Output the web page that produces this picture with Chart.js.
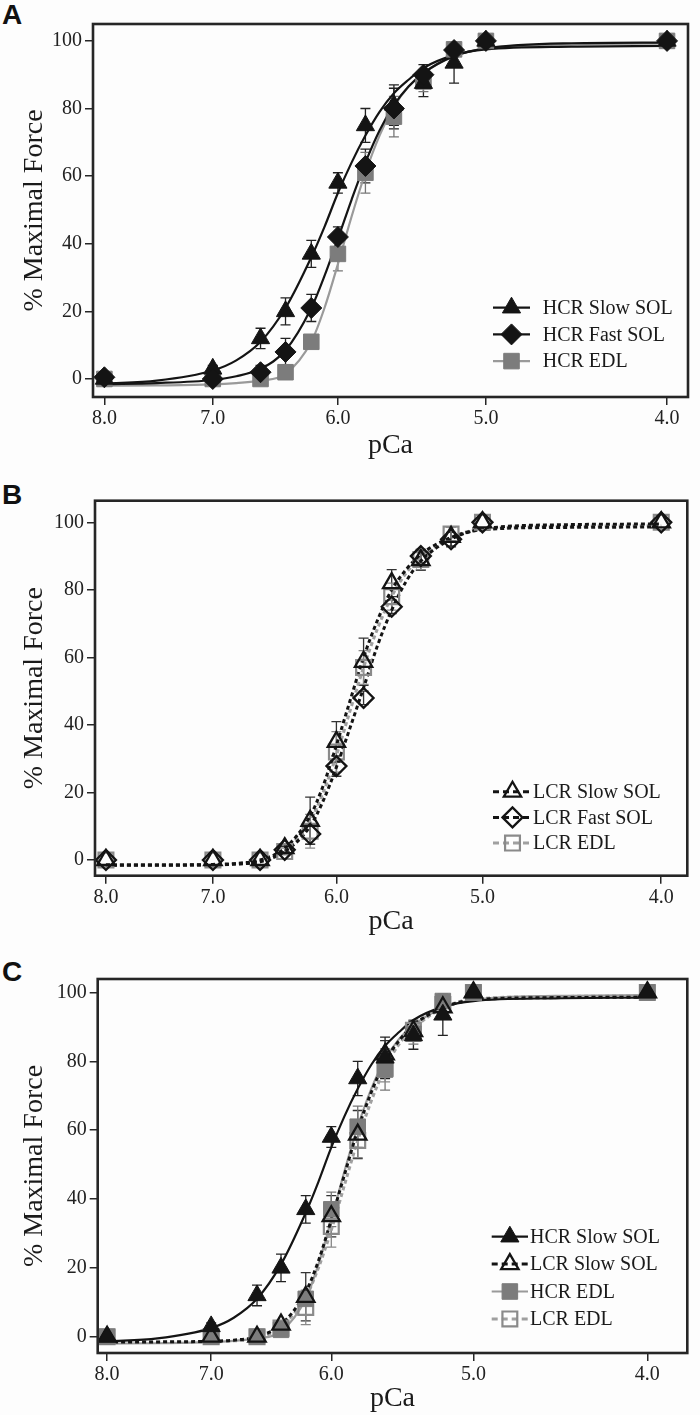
<!DOCTYPE html>
<html>
<head>
<meta charset="utf-8">
<script src="https://cdn.jsdelivr.net/npm/chart.js@4.4.0/dist/chart.umd.min.js"></script>
<style>
  body { margin: 0; background: #fdfdfd; }
  #wrap { position: relative; width: 700px; height: 1415px; }
  .panel { position: absolute; left: 0; }
  .letter { position: absolute; left: 2px; font: bold 28px "Liberation Sans", Arial, sans-serif; line-height: 28px; color: #111; }
</style>
</head>
<body>
<div id="wrap">
  <div class="letter" style="top:1px">A</div>
  <div class="letter" style="top:481px">B</div>
  <div class="letter" style="top:958px">C</div>
  <canvas id="chartA" class="panel" width="700" height="470" style="top:0px"></canvas>
  <canvas id="chartB" class="panel" width="700" height="470" style="top:478px"></canvas>
  <canvas id="chartC" class="panel" width="700" height="460" style="top:955px"></canvas>
</div>
<script>
// measured points
const pCa = [8.0, 7.0, 6.6, 6.4, 6.2, 6.0, 5.8, 5.6, 5.4, 5.2, 5.0, 4.0];

const hcrSlowSol    = [0, 3, 12, 20, 37, 58, 75, 81, 87.5, 93.5, 100, 100];
const hcrSlowSolErr = [0, 1, 3, 4, 4, 3, 5, 6, 4, 6, 0, 0];
const hcrFastSol    = [0.5, 0, 2, 8, 21, 42, 63, 80, 90, 97.3, 100, 100];
const hcrFastSolErr = [0, 0, 2, 4, 4, 3, 5, 6, 3, 2, 0, 0];
const hcrEdl        = [0, 0, 0, 2, 11, 37, 61, 77.6, 88, 97.5, 100, 100];
const hcrEdlErr     = [0, 0, 0, 0, 0, 5, 6, 6, 3, 2, 0, 0];

const lcrSlowSol    = [0, 0, 0, 3.5, 11.6, 35, 58.7, 82, 88.8, 95.7, 100, 100];
const lcrSlowSolErr = [0, 0, 0, 1, 7, 6, 7, 4, 3, 3, 0, 0];
const lcrFastSol    = [0, 0, 0, 3, 7.7, 27.8, 48, 75, 90, 95, 100, 100];
const lcrFastSolErr = [0, 0, 0, 1, 3, 3, 2, 2, 2, 2, 0, 0];
const lcrEdl        = [0, 0, 0, 2.5, 8.5, 32, 57, 78, 89, 96.5, 100, 100];
const lcrEdlErr     = [0, 0, 0, 1, 5, 6, 5, 4, 3, 2, 0, 0];

// fitted curves
const fitPCa = [8.0, 7.5, 7.0, 6.8, 6.6, 6.4, 6.2, 6.1, 6.0, 5.9, 5.8, 5.7, 5.6, 5.5, 5.4, 5.2, 5.0, 4.5, 4.0];
const hcrSlowSolFit = [-1.3, -0.5, 2.5, 5.5, 11, 21, 36, 45, 55, 64, 72, 79, 84.5, 88.5, 92, 95.8, 97.5, 98.3, 98.5];
const hcrFastSolFit = [-1.5, -1.2, -0.3, 0.8, 3, 8.5, 21, 30.5, 41.5, 53, 64, 73.5, 81, 86.5, 90.5, 95.5, 97.8, 99.3, 99.5];
const hcrEdlFit     = [-2, -1.9, -1.6, -1.2, -0.5, 1.5, 11, 21, 34, 48, 61, 72, 80.5, 86.5, 90.5, 95.5, 97.8, 99, 99.2];
const lcrSlowSolFit = [-1.5, -1.5, -1.3, -1, 0, 3.5, 13, 22, 34, 47, 60, 71, 80, 86, 90.5, 95.5, 97.8, 98.5, 98.6];
const lcrFastSolFit = [-1.5, -1.5, -1.4, -1.2, -0.5, 2.5, 10, 17.5, 27.5, 39, 51, 63.5, 74, 82.5, 88.5, 95, 98, 99.3, 99.5];
const lcrEdlFit     = [-1.6, -1.6, -1.5, -1.2, -0.5, 3, 11.5, 20, 31, 44, 57, 68.5, 78, 85, 89.5, 95.5, 98, 98.8, 99];

const xTicks = [8.0, 7.0, 6.0, 5.0, 4.0];
const yTicks = [0, 20, 40, 60, 80, 100];

const BLACK = '#141414';
const GRAY = '#7c7c7c';
const LIGHT = '#9a9a9a';
const SERIF = '"Liberation Serif", "Times New Roman", serif';

const looks = {
  hcrSlow: { pointStyle: 'triangle', radius: 10.5, fill: BLACK, edge: BLACK, edgeWidth: 1, line: BLACK, lineWidth: 2.2, dash: [], err: '#222' },
  hcrFast: { pointStyle: 'rectRot', radius: 10.5, fill: BLACK, edge: BLACK, edgeWidth: 1, line: BLACK, lineWidth: 2.2, dash: [], err: '#222' },
  hcrEdl:  { pointStyle: 'rect', radius: 11, fill: GRAY, edge: GRAY, edgeWidth: 1, line: LIGHT, lineWidth: 2.2, dash: [], err: '#777' },
  lcrSlow: { pointStyle: 'triangle', radius: 10, fill: 'rgba(0,0,0,0)', edge: BLACK, edgeWidth: 2.3, line: BLACK, lineWidth: 3, dash: [4, 3], err: '#333' },
  lcrFast: { pointStyle: 'rectRot', radius: 10, fill: 'rgba(0,0,0,0)', edge: BLACK, edgeWidth: 2.3, line: BLACK, lineWidth: 3, dash: [4, 3], err: '#333' },
  lcrEdl:  { pointStyle: 'rect', radius: 10.5, fill: 'rgba(0,0,0,0)', edge: '#8a8a8a', edgeWidth: 2.2, line: '#a0a0a0', lineWidth: 3, dash: [4, 3], err: '#888' }
};

const panels = [
  { id: 'chartA', area: { left: 93, top: 24, right: 690, bottom: 397 }, height: 470,
    xMin: 3.898, xMax: 8.113, yMin: -5.33, yMax: 105, titlePad: 10,
    legend: { x: 493, len: 37, y: 307.7, gap: 26.7, textX: 542.7 },
    series: [
      { label: 'HCR Fast SOL', data: hcrFastSol, err: hcrFastSolErr, fit: hcrFastSolFit, look: looks.hcrFast, row: 1 },
      { label: 'HCR Slow SOL', data: hcrSlowSol, err: hcrSlowSolErr, fit: hcrSlowSolFit, look: looks.hcrSlow, row: 0 },
      { label: 'HCR EDL', data: hcrEdl, err: hcrEdlErr, fit: hcrEdlFit, look: looks.hcrEdl, row: 2 }
    ] },
  { id: 'chartB', area: { left: 95, top: 22.7, right: 692, bottom: 397.7 }, height: 470,
    xMin: 3.872, xMax: 8.110, yMin: -4.65, yMax: 106.4, titlePad: 12.3,
    legend: { x: 493, len: 39, y: 313.7, gap: 25.7, textX: 533 },
    series: [
      { label: 'LCR Slow SOL', data: lcrSlowSol, err: lcrSlowSolErr, fit: lcrSlowSolFit, look: looks.lcrSlow, row: 0 },
      { label: 'LCR Fast SOL', data: lcrFastSol, err: lcrFastSolErr, fit: lcrFastSolFit, look: looks.lcrFast, row: 1 },
      { label: 'LCR EDL', data: lcrEdl, err: lcrEdlErr, fit: lcrEdlFit, look: looks.lcrEdl, row: 2 }
    ] },
  { id: 'chartC', area: { left: 97.7, top: 24, right: 693, bottom: 398 }, height: 460,
    xMin: 3.843, xMax: 8.097, yMin: -4.73, yMax: 103.9, titlePad: 2.7,
    legend: { x: 491.7, len: 36.3, y: 281.7, gap: 27.4, textX: 530 },
    series: [
      { label: 'HCR Slow SOL', data: hcrSlowSol, err: hcrSlowSolErr, fit: hcrSlowSolFit, look: looks.hcrSlow, row: 0 },
      { label: 'LCR Slow SOL', data: lcrSlowSol, err: lcrSlowSolErr, fit: lcrSlowSolFit, look: looks.lcrSlow, row: 1 },
      { label: 'HCR EDL', data: hcrEdl, err: hcrEdlErr, fit: hcrEdlFit, look: looks.hcrEdl, row: 2 },
      { label: 'LCR EDL', data: lcrEdl, err: lcrEdlErr, fit: lcrEdlFit, look: looks.lcrEdl, row: 3 }
    ] }
];

const errorBars = {
  id: 'errorBars',
  beforeDatasetsDraw(chart) {
    const { ctx, scales: { x, y } } = chart;
    chart.data.datasets.forEach(ds => {
      if (!ds.errors) return;
      ctx.save();
      ctx.strokeStyle = ds.errorColor;
      ctx.lineWidth = 1.3;
      ds.data.forEach((p, i) => {
        const e = ds.errors[i];
        if (!e) return;
        const px = x.getPixelForValue(p.x);
        const top = y.getPixelForValue(p.y + e);
        const bot = y.getPixelForValue(p.y - e);
        ctx.beginPath();
        ctx.moveTo(px, top); ctx.lineTo(px, bot);
        ctx.moveTo(px - 5, top); ctx.lineTo(px + 5, top);
        ctx.moveTo(px - 5, bot); ctx.lineTo(px + 5, bot);
        ctx.stroke();
      });
      ctx.restore();
    });
  }
};

const frame = {
  id: 'frame',
  afterDraw(chart) {
    const { ctx, chartArea: a } = chart;
    ctx.save();
    ctx.strokeStyle = '#262626';
    ctx.lineWidth = 2.6;
    ctx.strokeRect(a.left, a.top, a.right - a.left, a.bottom - a.top);
    ctx.restore();
  }
};

const insideLegend = {
  id: 'insideLegend',
  afterDraw(chart, args, opts) {
    const { ctx } = chart;
    chart.data.datasets.forEach(ds => {
      if (ds.row === undefined) return;
      const lk = ds.look;
      const y = opts.y + ds.row * opts.gap;
      ctx.save();
      ctx.strokeStyle = lk.line;
      ctx.lineWidth = lk.lineWidth;
      ctx.setLineDash(lk.dash.length ? [6, 4] : []);
      ctx.beginPath();
      ctx.moveTo(opts.x, y);
      ctx.lineTo(opts.x + opts.len, y);
      ctx.stroke();
      ctx.setLineDash([]);
      ctx.fillStyle = lk.fill;
      ctx.strokeStyle = lk.edge;
      ctx.lineWidth = lk.edgeWidth;
      Chart.helpers.drawPoint(ctx, { pointStyle: lk.pointStyle, radius: lk.radius, borderWidth: lk.edgeWidth, rotation: 0 },
        opts.x + opts.len / 2, y);
      ctx.fillStyle = '#1a1a1a';
      ctx.font = '20px ' + SERIF;
      ctx.textBaseline = 'middle';
      ctx.fillText(ds.label, opts.textX, y + 1);
      ctx.restore();
    });
  }
};

function buildChart(p) {
  const datasets = [];
  p.series.forEach((s, i) => {
    datasets.push({
      label: s.label,
      row: s.row,
      look: s.look,
      data: pCa.map((x, j) => ({ x: x, y: s.data[j] })),
      errors: s.err,
      errorColor: s.look.err,
      showLine: false,
      pointStyle: s.look.pointStyle,
      pointRadius: s.look.radius,
      pointBackgroundColor: s.look.fill,
      pointBorderColor: s.look.edge,
      pointBorderWidth: s.look.edgeWidth,
      order: i
    });
    datasets.push({
      data: fitPCa.map((x, j) => ({ x: x, y: s.fit[j] })),
      borderColor: s.look.line,
      borderWidth: s.look.lineWidth,
      borderDash: s.look.dash,
      pointRadius: 0,
      cubicInterpolationMode: 'monotone',
      fill: false,
      order: 10 + i
    });
  });

  const H = p.height;
  new Chart(document.getElementById(p.id), {
    type: 'line',
    data: { datasets: datasets },
    plugins: [errorBars, frame, insideLegend],
    options: {
      responsive: false,
      animation: false,
      layout: { padding: { top: p.area.top, right: 700 - p.area.right, left: 0, bottom: 0 } },
      plugins: {
        legend: { display: false },
        tooltip: { enabled: false },
        insideLegend: p.legend
      },
      scales: {
        x: {
          type: 'logarithmic',
          reverse: true,
          min: p.xMin,
          max: p.xMax,
          afterBuildTicks: s => { s.ticks = xTicks.map(v => ({ value: v })); },
          afterFit: s => { s.height = H - p.area.bottom; },
          grid: { drawOnChartArea: false, drawTicks: true, tickLength: 8, color: '#262626', lineWidth: 1.5 },
          border: { display: false },
          ticks: { autoSkip: false, maxRotation: 0, padding: 2, color: '#222', font: { family: SERIF, size: 20 },
            callback: v => Number(v).toFixed(1) },
          title: { display: true, text: 'pCa', color: '#1a1a1a', font: { family: SERIF, size: 28, lineHeight: 1 },
            padding: { top: 0, bottom: p.titlePad } }
        },
        y: {
          type: 'linear',
          min: p.yMin,
          max: p.yMax,
          afterBuildTicks: s => { s.ticks = yTicks.map(v => ({ value: v })); },
          afterFit: s => { s.width = p.area.left; },
          grid: { drawOnChartArea: false, drawTicks: true, tickLength: 8, color: '#262626', lineWidth: 1.5 },
          border: { display: false },
          ticks: { padding: 3, color: '#222', font: { family: SERIF, size: 20 } },
          title: { display: true, text: '% Maximal Force', color: '#1a1a1a', font: { family: SERIF, size: 28, lineHeight: 1 },
            padding: { top: 21, bottom: 0 } }
        }
      }
    }
  });
}

panels.forEach(buildChart);
</script>
</body>
</html>
